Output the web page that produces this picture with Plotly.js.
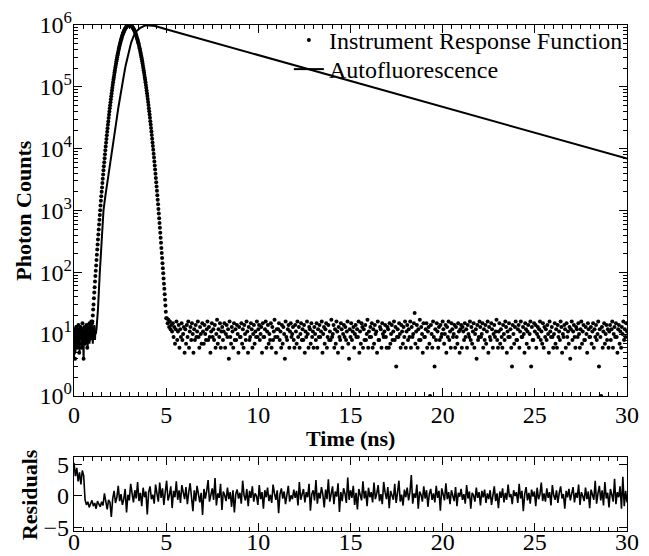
<!DOCTYPE html>
<html>
<head>
<meta charset="utf-8">
<script src="https://cdn.plot.ly/plotly-3.0.1.min.js"></script>
<style>html,body{margin:0;padding:0;background:#fff;}#chart{width:649px;height:556px;}</style>
</head>
<body>
<div id="chart"></div>
<script>
// ---- Instrument Response Function (photon counts per channel) ----
// early baseline, channels from 0 ns, 0.02 ns wide
const irfEarlyCounts = [5,9,12,4,8,11,13,7,10,6,12,9,14,8,5,11,10,13,7,9,12,6,10,15,8,11,4,9,13,10,7,12,11,8,14,9,6,10,12,13,8,11,15,9,12,10,14,16,13,15];
// peak, channels from 1.00 ns, 0.02 ns wide
const irfPeakCounts = [
16,20,25,30,38,47,57,71,87,106,
129,158,192,233,282,340,410,493,592,709,
847,1010,1200,1430,1690,2000,2350,2770,3250,3800,
4450,5180,6030,7000,8110,9380,10800,12400,14300,16400,
18700,21300,24300,27600,31200,35300,39800,44800,50400,56400,
63100,70400,78300,87000,96500,107000,118000,130000,142000,156000,
171000,186000,203000,220000,239000,258000,279000,300000,323000,346000,
370000,395000,420000,447000,474000,501000,529000,557000,586000,614000,
643000,671000,699000,727000,754000,780000,805000,830000,853000,875000,
895000,914000,932000,947000,961000,973000,982000,990000,996000,999000,
1000000,
999000,995000,989000,981000,972000,960000,946000,931000,913000,894000,
874000,852000,829000,804000,779000,753000,726000,698000,670000,642000,
613000,585000,556000,528000,500000,473000,446000,419000,394000,369000,
345000,322000,300000,278000,258000,238000,220000,202000,186000,171000,
156000,142000,130000,118000,107000,96800,87300,78700,70700,63400,
56800,50700,45100,40100,35600,31500,27800,24500,21500,18900,
16600,14500,12600,11000,9550,8280,7160,6180,5320,4580,
3920,3360,2870,2440,2080,1760,1490,1260,1060,895,
750,627,523,436,362,300,248,205,170,140,
116,96,79,65,54,44,36,29,23,18];
// background after the pulse, channels from 5.04 ns, 0.04 ns wide
const irfFloorCounts = [
18,15,17,13,16,12,14,11,15,9,13,7,12,16,8,11,14,6,12,9,15,8,10,13,5,
12,7,14,9,16,6,11,13,8,15,10,5,12,8,14,9,11,16,9,6,13,10,7,15,11,
7,14,10,8,12,16,8,13,9,5,11,15,9,12,8,14,6,10,17,7,12,9,15,6,11,
13,8,11,15,6,10,14,9,12,4,16,9,7,13,11,6,15,8,12,8,14,10,5,13,9,
9,15,7,12,6,14,10,8,16,11,5,13,8,9,15,12,6,10,14,7,11,9,16,9,12,
14,8,10,13,5,15,9,9,12,16,6,11,14,7,10,8,15,6,13,8,11,17,9,5,12,
9,12,15,8,11,6,14,7,13,10,4,16,9,8,12,14,6,11,15,9,10,13,8,6,14,
11,7,16,9,13,6,10,15,8,12,8,14,5,11,9,16,10,6,13,12,7,15,9,11,6,
13,10,8,15,6,12,9,14,9,11,16,5,10,13,7,12,15,6,9,14,8,11,8,17,9,
10,14,6,12,7,16,11,5,13,9,8,15,12,6,10,14,9,13,8,11,16,7,4,12,9,
15,8,11,13,6,10,14,9,12,9,16,5,11,7,15,13,6,12,8,14,8,10,17,6,11,
9,13,9,15,6,12,7,14,10,11,5,16,8,8,13,12,6,15,10,9,11,14,9,6,13,
12,6,15,7,10,14,8,11,16,8,13,3,9,12,9,15,10,6,14,11,7,13,9,16,6,
11,14,8,12,9,16,6,13,9,10,15,22,7,11,14,6,12,8,17,8,13,10,5,15,9,
9,12,15,6,11,13,7,1,14,10,6,16,9,3,12,8,15,11,6,13,8,14,9,10,16,
12,7,10,14,5,13,9,16,8,11,6,15,12,9,10,14,6,13,9,7,15,11,5,12,14,
6,13,11,8,15,9,12,6,14,10,9,16,8,13,7,11,15,6,10,12,4,14,8,9,16,
13,9,10,15,6,12,8,14,7,11,16,5,13,9,8,15,12,6,10,14,9,11,17,8,6,
11,15,7,12,9,6,14,10,8,16,13,5,11,9,15,9,12,6,3,14,10,7,13,16,8,
8,12,14,6,11,16,9,9,13,10,5,15,12,7,11,14,6,10,16,3,13,8,8,15,11,
14,6,10,13,9,12,16,8,11,7,15,6,13,9,12,8,14,10,5,16,11,9,13,9,6,
10,15,7,12,6,14,9,11,8,16,13,5,10,9,14,12,6,15,9,11,7,13,4,12,16,
8,11,14,9,6,13,12,9,15,10,6,12,16,7,11,14,8,8,13,10,5,15,12,9,9,
13,7,11,15,6,12,9,14,8,10,16,3,12,9,1,13,6,11,15,7,10,14,8,12,6,
11,14,8,12,16,6,10,13,9,15,9,5,12,14,7,11,6,13,10,16,8,12,9,15,11];

// ---- Autofluorescence ----
// noisy baseline, channels from 0 ns, 0.02 ns wide
const afEarlyCounts = [4,7,12,9,5,11,14,8,10,6,13,9,11,7,12,5,10,14,8,11,9,13,6,10,12,8,4,11,9,13,10,7,12,9,14,8,11,6,10,13,9,12,7,11,10,14,8,12,9,13,11,7,10,12,9,14,11,8,12,10,11];
// rise and decay
const afTime = [1.22,1.25,1.3,1.4,1.5,1.6,1.7,1.8,1.9,2.0,2.1,2.25,2.4,2.5,2.6,2.7,2.8,2.95,3.1,3.25,3.4,3.6,3.85,4.1,4.4,5,6,8,10,12,15,18,20,22,25,28,30];
const afCounts = [12,16,25,100,320,1000,1700,2800,4300,7000,11000,22000,45000,70000,100000,150000,220000,360000,520000,680000,800000,900000,980000,985000,960000,855000,705000,480000,326000,222000,124000,69800,47400,32300,18100,10200,6900];

// ---- Residuals, channels from 0 ns, 0.075 ns wide ----
const residuals = [
5.2,3.1,4.4,2.3,3.7,1.8,4.0,3.2,-0.6,-1.4,-0.9,-1.8,-1.2,-0.7,-1.6,-1.1,-2.0,-0.8,-1.3,-1.7,
-0.9,-1.5,0.4,-1.2,-2.1,-0.6,-1.0,-3.3,-0.4,0.8,-1.1,-0.2,1.6,-0.8,0.3,-1.4,-0.5,1.1,-2.6,0.2,
-0.7,1.9,0.3,-1.0,0.9,-0.4,2.2,-0.8,0.5,-1.6,1.3,-0.2,0.7,-2.9,0.6,1.5,-0.5,0.2,-1.2,1.8,
0.4,-0.9,2.1,-0.3,1.2,-1.4,0.6,2.4,-0.7,0.1,1.5,-1.9,0.8,-0.2,2.3,-0.6,0.9,-1.1,1.7,0.2,
-0.5,1.4,-1.3,0.6,2.0,-0.2,-2.4,0.9,-0.8,1.6,0.3,-1.0,0.5,-3.0,1.1,-0.4,0.8,2.5,-0.9,0.2,
1.2,-0.6,2.8,-1.5,0.4,-0.3,1.9,-2.2,0.7,0.1,-0.8,1.3,-0.5,0.6,-1.7,0.9,-2.6,0.3,1.0,-0.4,
0.5,-1.2,2.4,0.1,-0.7,1.1,-1.6,0.8,-0.3,1.5,-0.9,0.4,0.0,-1.4,1.7,-0.5,0.6,-2.0,0.9,-0.2,
1.3,-0.8,0.2,-1.1,1.8,0.4,-0.6,0.9,-2.7,0.3,1.2,-0.4,0.7,-1.3,0.5,1.6,-0.9,0.1,-0.5,1.0,
-0.3,0.8,-1.5,2.2,-0.6,0.4,1.1,-1.0,0.6,-0.2,1.9,-2.3,0.3,0.9,-0.7,2.5,-1.2,0.5,-0.4,1.4,
0.2,-1.8,1.0,-0.5,2.6,-0.9,0.3,1.5,-1.3,0.7,-0.1,2.0,-2.5,0.6,-0.8,1.2,0.4,-1.1,2.9,-0.6,
0.9,-0.3,1.6,-1.4,0.5,-2.1,1.1,0.2,-0.7,2.3,-0.4,0.8,-1.6,1.3,-0.2,0.6,-1.0,2.1,-0.5,0.4,
1.7,-0.8,0.3,-1.3,2.2,0.6,-0.5,1.4,-1.9,0.8,0.1,-0.6,1.9,-1.1,0.5,2.4,-0.9,0.2,-1.5,1.0,
-0.2,1.3,-0.7,0.6,3.3,-1.2,0.4,-0.3,1.8,-2.0,0.7,0.2,-0.9,1.5,-0.4,0.9,-1.7,0.3,1.1,-0.6,
0.4,-1.0,1.6,-0.3,0.8,-2.3,1.2,0.1,-0.7,2.0,-0.5,0.6,-1.3,0.9,0.2,-0.8,1.4,-1.6,0.5,-0.1,
1.1,-0.6,0.3,-1.2,1.7,-0.4,0.7,-2.0,0.5,0.1,-0.9,1.3,-0.3,0.6,-1.5,0.8,-0.2,1.0,-1.1,0.4,
-0.5,0.9,-1.4,0.2,1.5,-0.8,0.4,-1.9,0.7,-0.3,1.2,-1.0,0.5,-0.6,1.8,-0.2,0.3,-1.3,0.9,0.0,
0.6,-1.1,1.9,-0.4,0.8,-2.4,0.3,1.4,-0.7,0.5,-1.2,1.0,-0.1,0.7,-1.6,1.3,-0.5,0.2,2.1,-0.8,
0.4,-0.9,1.2,-0.3,0.6,-1.5,1.7,0.1,-0.6,0.9,-1.1,0.5,1.5,-0.4,0.3,-2.0,0.8,-0.2,1.1,-0.7,
0.2,1.4,-1.0,0.5,-0.3,1.8,-1.4,0.6,0.0,-0.8,1.3,-0.5,0.7,-1.9,1.0,0.3,-0.6,2.4,-1.2,0.4,
1.6,-0.7,0.9,-1.5,2.2,-0.4,0.5,-1.8,1.1,0.2,-0.9,2.7,-1.3,0.6,-0.2,1.5,-2.0,3.0,-1.6,0.8,
-1.0];

// tick labels
const xTickVals = [0,5,10,15,20,25,30];
const yTickVals = [1,10,100,1000,10000,100000,1000000];
const yTickText = ['10<sup>0</sup>','10<sup>1</sup>','10<sup>2</sup>','10<sup>3</sup>','10<sup>4</sup>','10<sup>5</sup>','10<sup>6</sup>'];
const resTickVals = [-5,0,5];

// channel time grid helper
function channels(start, width, n) {
  const out = [];
  for (let i = 0; i < n; i++) out.push(+(start + i * width).toFixed(4));
  return out;
}

const irfTime = [].concat(
  channels(0, 0.02, irfEarlyCounts.length),
  channels(1.0, 0.02, irfPeakCounts.length),
  channels(5.04, 0.04, irfFloorCounts.length));
const irfCounts = [].concat(irfEarlyCounts, irfPeakCounts, irfFloorCounts);
const afAllTime = [].concat(channels(0, 0.02, afEarlyCounts.length), afTime);
const afAllCounts = [].concat(afEarlyCounts, afCounts);
const resTime = channels(0, 0.075, residuals.length);

const minorLog = [];
for (let k = 0; k < 6; k++) for (let m = 2; m <= 9; m++) minorLog.push(m * Math.pow(10, k));

const FONT = 'Liberation Serif, Times New Roman, serif';

const traces = [
  {x: irfTime, y: irfCounts, type: 'scatter', mode: 'markers', name: 'Instrument Response Function',
   marker: {color: '#000', size: 4}, xaxis: 'x', yaxis: 'y', legend: 'legend'},
  {x: afAllTime, y: afAllCounts, type: 'scatter', mode: 'lines', name: 'Autofluorescence',
   line: {color: '#000', width: 2}, xaxis: 'x', yaxis: 'y', legend: 'legend2'},
  {x: resTime, y: residuals, type: 'scatter', mode: 'lines', showlegend: false,
   line: {color: '#000', width: 1.6}, xaxis: 'x2', yaxis: 'y2'}
];

const axCommon = {
  showline: true, linecolor: '#000', linewidth: 1.2, mirror: 'ticks',
  ticks: 'inside', ticklen: 8, tickwidth: 1, tickcolor: '#000',
  showgrid: false, zeroline: false,
  tickfont: {family: FONT, size: 24, color: '#000'}
};
const legendFont = {family: FONT, size: 24, color: '#000'};
const titleFont = {family: FONT, size: 22, weight: 'bold', color: '#000'};

const layout = {
  width: 649, height: 556,
  margin: {l: 74, r: 22, t: 25, b: 25},
  paper_bgcolor: '#fff', plot_bgcolor: '#fff',
  font: {family: FONT, color: '#000'},
  showlegend: true,
  legend: {x: 0.3886, y: 1.0138, xanchor: 'left', yanchor: 'top', bgcolor: 'rgba(0,0,0,0)', font: legendFont},
  legend2: {x: 0.3886, y: 0.9565, xanchor: 'left', yanchor: 'top', bgcolor: 'rgba(0,0,0,0)', font: legendFont},
  xaxis: Object.assign({}, axCommon, {
    domain: [0, 1], anchor: 'y', range: [0, 30], tickmode: 'array', tickvals: xTickVals,
    ticklabelstandoff: -3,
    minor: {dtick: 0.5, tick0: 0, ticklen: 4, ticks: 'inside', tickcolor: '#000'}
  }),
  yaxis: Object.assign({}, axCommon, {
    domain: [0.267, 1], anchor: 'x', type: 'log', range: [0, 6],
    tickmode: 'array', tickvals: yTickVals, ticktext: yTickText, ticklabelstandoff: -4,
    minor: {tickmode: 'array', tickvals: minorLog, ticklen: 4, ticks: 'inside', tickcolor: '#000'}
  }),
  xaxis2: Object.assign({}, axCommon, {
    domain: [0, 1], anchor: 'y2', range: [0, 30], tickmode: 'array', tickvals: xTickVals,
    ticklabelstandoff: -11,
    minor: {dtick: 0.5, tick0: 0, ticklen: 4, ticks: 'inside', tickcolor: '#000'}
  }),
  yaxis2: Object.assign({}, axCommon, {
    domain: [0, 0.146], anchor: 'x2', range: [-5.5, 6.1],
    tickmode: 'array', tickvals: resTickVals, ticklabelstandoff: -1
  }),
  annotations: [
    {text: 'Time (ns)', xref: 'paper', yref: 'paper', x: 0.5, y: 0.183, xanchor: 'center', yanchor: 'middle',
     showarrow: false, font: titleFont},
    {text: 'Photon Counts', xref: 'paper', yref: 'paper', x: -0.0904, y: 0.633, xanchor: 'center', yanchor: 'middle',
     textangle: -90, showarrow: false, font: titleFont},
    {text: 'Residuals', xref: 'paper', yref: 'paper', x: -0.0814, y: 0.073, xanchor: 'center', yanchor: 'middle',
     textangle: -90, showarrow: false, font: titleFont}
  ]
};

Plotly.newPlot('chart', traces, layout, {displayModeBar: false, staticPlot: true});
</script>
</body>
</html>
